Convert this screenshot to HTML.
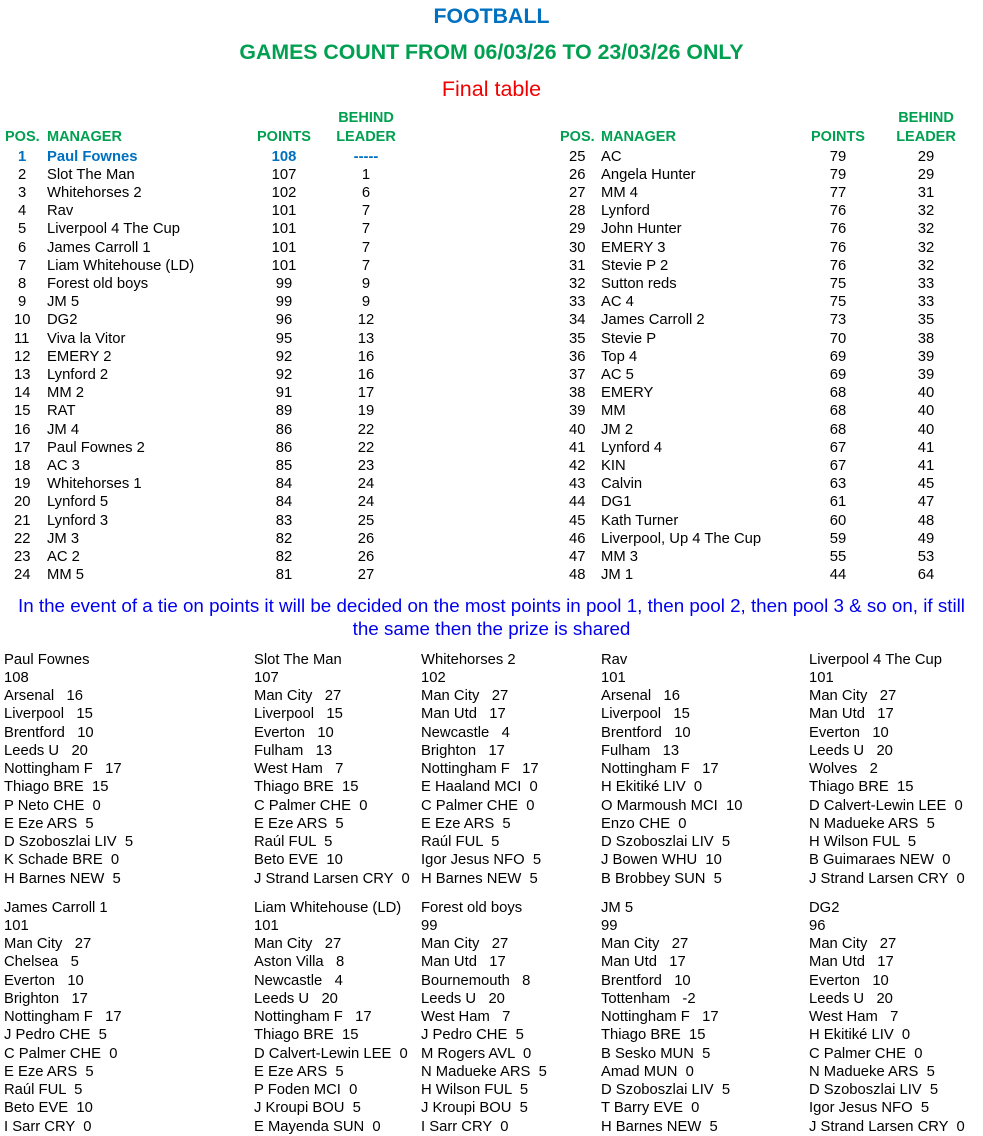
<!DOCTYPE html>
<html><head><meta charset="utf-8"><style>
body{margin:0;width:983px;height:1135px;background:#fff;font-family:"Liberation Sans",Arial,sans-serif;position:relative;overflow:hidden;color:#000}
.t{position:absolute;left:0;width:983px;text-align:center;font-size:21.3px;line-height:24px}
.r{position:absolute;height:18.2px;line-height:18.2px;font-size:14.8px;left:0;width:983px}
.r span{position:absolute;white-space:nowrap}
.c{text-align:center;width:60px}
.h{color:#00a050;font-weight:bold;font-size:14.5px}
.b{position:absolute;font-size:14.8px;line-height:18.25px;white-space:pre}
</style></head><body>
<div class="t" style="top:4px;color:#0070c0;font-weight:bold">FOOTBALL</div>
<div class="t" style="top:40px;color:#00a050;font-weight:bold">GAMES COUNT FROM 06/03/26 TO 23/03/26 ONLY</div>
<div class="t" style="top:77px;color:#f00000;font-size:21.5px">Final table</div>
<div class="r h" style="top:109px"><span class="c" style="left:336px">BEHIND</span><span class="c" style="left:896px">BEHIND</span></div>
<div class="r h" style="top:128px"><span style="left:5px">POS.</span><span style="left:47px">MANAGER</span><span class="c" style="left:254px">POINTS</span><span class="c" style="left:336px">LEADER</span><span style="left:560px">POS.</span><span style="left:601px">MANAGER</span><span class="c" style="left:808px">POINTS</span><span class="c" style="left:896px">LEADER</span></div>
<div id="rows"></div>
<div class="t" style="top:594px;font-size:18.8px;color:#0000ee;line-height:23px">In the event of a tie on points it will be decided on the most points in pool 1, then pool 2, then pool 3 &amp; so on, if still<br>the same then the prize is shared</div>
<div id="blocks"></div>
<script>
var L=[["Paul Fownes",108,"-----"],["Slot The Man",107,1],["Whitehorses 2",102,6],["Rav",101,7],["Liverpool 4 The Cup",101,7],["James Carroll 1",101,7],["Liam Whitehouse (LD)",101,7],["Forest old boys",99,9],["JM 5",99,9],["DG2",96,12],["Viva la Vitor",95,13],["EMERY 2",92,16],["Lynford 2",92,16],["MM 2",91,17],["RAT",89,19],["JM 4",86,22],["Paul Fownes 2",86,22],["AC 3",85,23],["Whitehorses 1",84,24],["Lynford 5",84,24],["Lynford 3",83,25],["JM 3",82,26],["AC 2",82,26],["MM 5",81,27]];
var R=[["AC",79,29],["Angela Hunter",79,29],["MM 4",77,31],["Lynford",76,32],["John Hunter",76,32],["EMERY 3",76,32],["Stevie P 2",76,32],["Sutton reds",75,33],["AC 4",75,33],["James Carroll 2",73,35],["Stevie P",70,38],["Top 4",69,39],["AC 5",69,39],["EMERY",68,40],["MM",68,40],["JM 2",68,40],["Lynford 4",67,41],["KIN",67,41],["Calvin",63,45],["DG1",61,47],["Kath Turner",60,48],["Liverpool, Up 4 The Cup",59,49],["MM 3",55,53],["JM 1",44,64]];
var h="";
for(var i=0;i<24;i++){var a=L[i],b=R[i];var st=i==0?"color:#0070c0;font-weight:bold;":"";
h+='<div class="r" style="top:'+(147.5+18.2*i)+'px"><span style="'+st+'left:'+(i<9?18:14)+'px">'+(i+1)+'</span><span style="'+st+'left:47px">'+a[0]+'</span><span class="c" style="'+st+'left:254px">'+a[1]+'</span><span class="c" style="'+st+'left:336px">'+a[2]+'</span><span style="left:569px">'+(i+25)+'</span><span style="left:601px">'+b[0]+'</span><span class="c" style="left:808px">'+b[1]+'</span><span class="c" style="left:896px">'+b[2]+'</span></div>';}
document.getElementById("rows").innerHTML=h;
var B=[
["Paul Fownes\n108\nArsenal   16\nLiverpool   15\nBrentford   10\nLeeds U   20\nNottingham F   17\nThiago BRE  15\nP Neto CHE  0\nE Eze ARS  5\nD Szoboszlai LIV  5\nK Schade BRE  0\nH Barnes NEW  5",
"Slot The Man\n107\nMan City   27\nLiverpool   15\nEverton   10\nFulham   13\nWest Ham   7\nThiago BRE  15\nC Palmer CHE  0\nE Eze ARS  5\nRaúl FUL  5\nBeto EVE  10\nJ Strand Larsen CRY  0",
"Whitehorses 2\n102\nMan City   27\nMan Utd   17\nNewcastle   4\nBrighton   17\nNottingham F   17\nE Haaland MCI  0\nC Palmer CHE  0\nE Eze ARS  5\nRaúl FUL  5\nIgor Jesus NFO  5\nH Barnes NEW  5",
"Rav\n101\nArsenal   16\nLiverpool   15\nBrentford   10\nFulham   13\nNottingham F   17\nH Ekitiké LIV  0\nO Marmoush MCI  10\nEnzo CHE  0\nD Szoboszlai LIV  5\nJ Bowen WHU  10\nB Brobbey SUN  5",
"Liverpool 4 The Cup\n101\nMan City   27\nMan Utd   17\nEverton   10\nLeeds U   20\nWolves   2\nThiago BRE  15\nD Calvert-Lewin LEE  0\nN Madueke ARS  5\nH Wilson FUL  5\nB Guimaraes NEW  0\nJ Strand Larsen CRY  0"],
["James Carroll 1\n101\nMan City   27\nChelsea   5\nEverton   10\nBrighton   17\nNottingham F   17\nJ Pedro CHE  5\nC Palmer CHE  0\nE Eze ARS  5\nRaúl FUL  5\nBeto EVE  10\nI Sarr CRY  0",
"Liam Whitehouse (LD)\n101\nMan City   27\nAston Villa   8\nNewcastle   4\nLeeds U   20\nNottingham F   17\nThiago BRE  15\nD Calvert-Lewin LEE  0\nE Eze ARS  5\nP Foden MCI  0\nJ Kroupi BOU  5\nE Mayenda SUN  0",
"Forest old boys\n99\nMan City   27\nMan Utd   17\nBournemouth   8\nLeeds U   20\nWest Ham   7\nJ Pedro CHE  5\nM Rogers AVL  0\nN Madueke ARS  5\nH Wilson FUL  5\nJ Kroupi BOU  5\nI Sarr CRY  0",
"JM 5\n99\nMan City   27\nMan Utd   17\nBrentford   10\nTottenham   -2\nNottingham F   17\nThiago BRE  15\nB Sesko MUN  5\nAmad MUN  0\nD Szoboszlai LIV  5\nT Barry EVE  0\nH Barnes NEW  5",
"DG2\n96\nMan City   27\nMan Utd   17\nEverton   10\nLeeds U   20\nWest Ham   7\nH Ekitiké LIV  0\nC Palmer CHE  0\nN Madueke ARS  5\nD Szoboszlai LIV  5\nIgor Jesus NFO  5\nJ Strand Larsen CRY  0"]];
var X=[4,254,421,601,809],g="";
for(var r=0;r<2;r++)for(var c=0;c<5;c++)g+='<div class="b" style="left:'+X[c]+'px;top:'+(650.5+248*r)+'px">'+B[r][c]+'</div>';
document.getElementById("blocks").innerHTML=g;
</script>
</body></html>
